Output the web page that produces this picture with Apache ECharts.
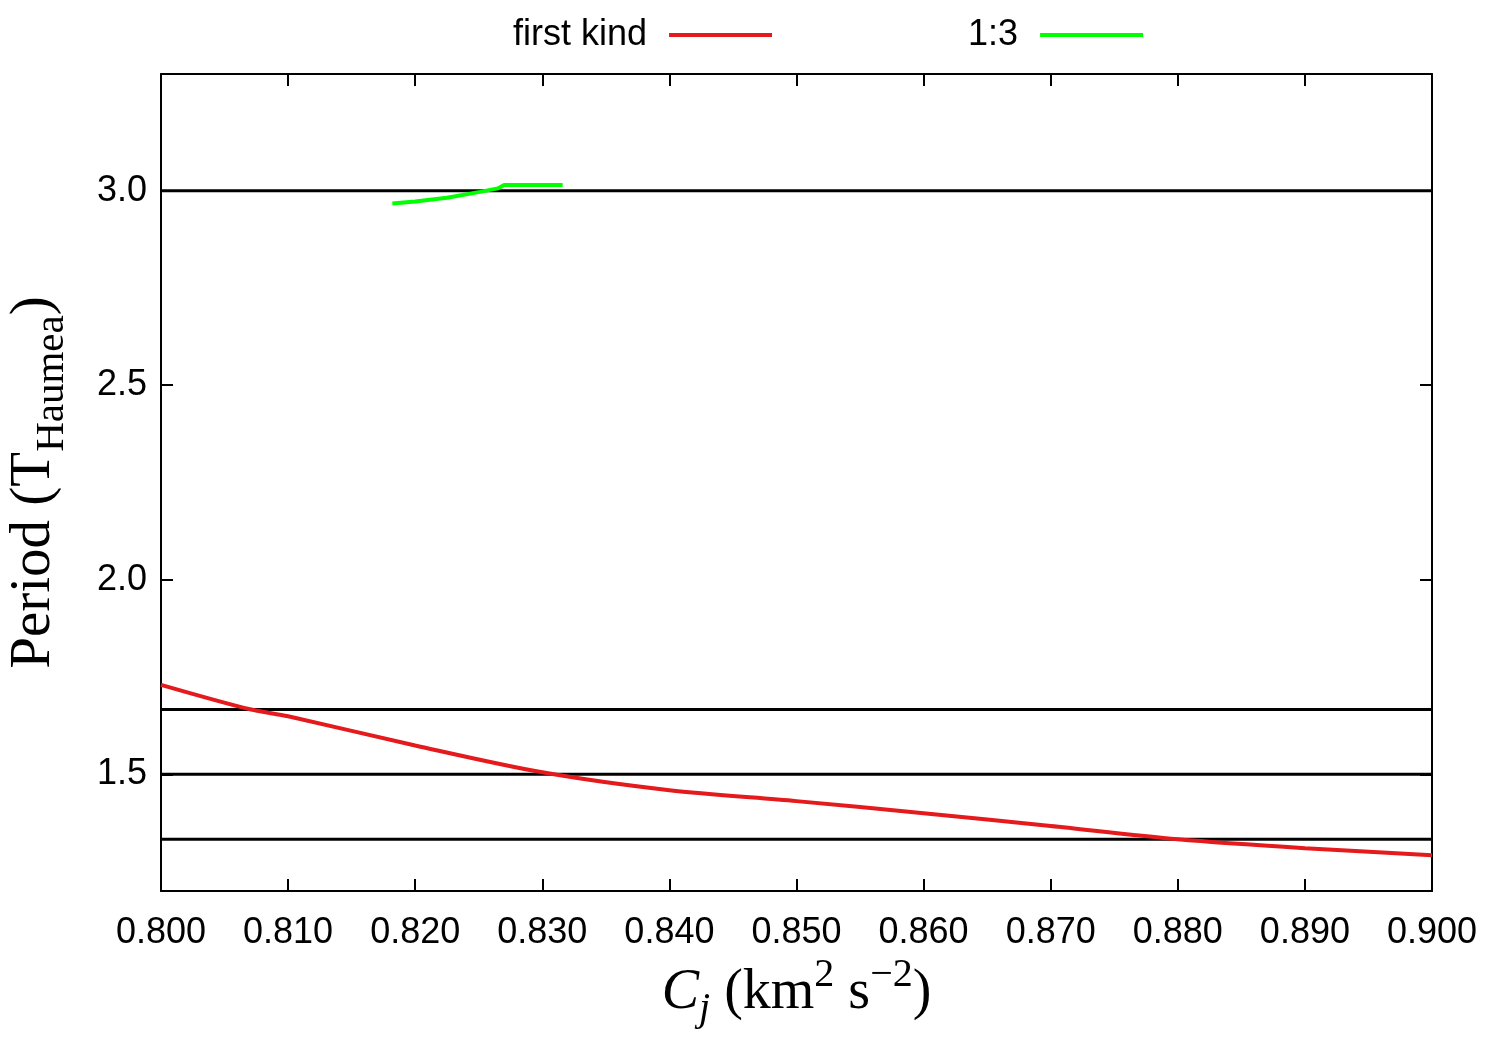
<!DOCTYPE html>
<html>
<head>
<meta charset="utf-8">
<script src="https://cdn.jsdelivr.net/npm/echarts@6/dist/echarts.min.js"></script>
<style>
html, body { margin: 0; padding: 0; background: #fff; }
#main { width: 1500px; height: 1050px; }
</style>
</head>
<body>
<div id="main"></div>
<script>
// data
var firstKindX = [0.800, 0.807, 0.810, 0.820, 0.830, 0.840, 0.850, 0.860, 0.870, 0.880, 0.890, 0.900];
var firstKindY = [1.730, 1.667, 1.649, 1.574, 1.505, 1.459, 1.431, 1.400, 1.367, 1.333, 1.310, 1.292];
var res13X = [0.8182, 0.8200, 0.8225, 0.8251, 0.8265, 0.8270, 0.8316];
var res13Y = [2.967, 2.972, 2.982, 2.997, 3.006, 3.015, 3.015];
var levels = [3.0, 5 / 3, 1.5, 4 / 3];
var yTicks = [1.5, 2.0, 2.5, 3.0];

function pairs(xs, ys) {
    var out = [];
    for (var i = 0; i < xs.length; i++) out.push([xs[i], ys[i]]);
    return out;
}

var myChart = echarts.init(document.getElementById('main'));

var levelSeries = levels.map(function (v) {
    return {
        type: 'line',
        name: 'level',
        data: [[0.8, v], [0.9, v]],
        symbol: 'none',
        silent: true,
        lineStyle: { color: '#000', width: 3 },
        z: 1
    };
});

var tickFont = { fontFamily: 'Liberation Sans', fontSize: 36, color: '#000' };
var serif = 'Liberation Serif';

option = {
    animation: false,
    backgroundColor: '#fff',
    grid: { left: 161, right: 68, top: 74, bottom: 159, outerBoundsMode: 'none' },
    legend: {
        top: 12,
        left: 508,
        align: 'right',
        itemGap: 196,
        itemWidth: 103,
        itemHeight: 4,
        icon: 'rect',
        data: ['first kind', '1:3'],
        textStyle: { fontFamily: 'Liberation Sans', fontSize: 36, color: '#000', padding: [0, 17, 0, 0] }
    },
    xAxis: [{
        type: 'value',
        min: 0.8,
        max: 0.9,
        interval: 0.01,
        axisLine: { show: true, onZero: false, lineStyle: { color: '#000', width: 2 } },
        axisTick: { show: true, inside: true, length: 12, lineStyle: { color: '#000', width: 2 } },
        splitLine: { show: false },
        axisLabel: Object.assign({
            margin: 24,
            formatter: function (v) { return v.toFixed(3); }
        }, tickFont),
        name: '{it|C}{sub|j}{t| (km}{sup|2}{t| s}{sup|−2}{t|)}',
        nameLocation: 'middle',
        nameGap: 62,
        nameTextStyle: {
            rich: {
                it: { fontFamily: serif, fontStyle: 'italic', fontSize: 56, color: '#000' },
                sub: { fontFamily: serif, fontStyle: 'italic', fontSize: 40, color: '#000', verticalAlign: 'bottom', padding: [34, 0, 0, 0] },
                t: { fontFamily: serif, fontSize: 56, color: '#000' },
                sup: { fontFamily: serif, fontSize: 40, color: '#000', verticalAlign: 'top', padding: [0, 0, 34, 0] }
            }
        }
    }, {
        type: 'value',
        position: 'top',
        min: 0.8,
        max: 0.9,
        interval: 0.01,
        axisLine: { show: true, onZero: false, lineStyle: { color: '#000', width: 2 } },
        axisTick: { show: true, inside: true, length: 12, lineStyle: { color: '#000', width: 2 } },
        axisLabel: { show: false },
        splitLine: { show: false }
    }],
    yAxis: [{
        type: 'value',
        min: 1.2,
        max: 3.3,
        axisLine: { show: true, onZero: false, lineStyle: { color: '#000', width: 2 } },
        axisTick: { show: true, inside: true, length: 12, customValues: yTicks, lineStyle: { color: '#000', width: 2 } },
        splitLine: { show: false },
        axisLabel: Object.assign({
            margin: 14,
            customValues: yTicks,
            formatter: function (v) { return v.toFixed(1); }
        }, tickFont),
        name: '{t|Period (T}{sub|Haumea}{t|)}',
        nameLocation: 'middle',
        nameGap: 88,
        nameRotate: 90,
        nameTextStyle: {
            rich: {
                t: { fontFamily: serif, fontSize: 57, color: '#000' },
                sub: { fontFamily: serif, fontSize: 41, color: '#000', verticalAlign: 'bottom', padding: [36, 0, 0, 0] }
            }
        }
    }, {
        type: 'value',
        position: 'right',
        min: 1.2,
        max: 3.3,
        axisLine: { show: true, onZero: false, lineStyle: { color: '#000', width: 2 } },
        axisTick: { show: true, inside: true, length: 12, customValues: yTicks, lineStyle: { color: '#000', width: 2 } },
        axisLabel: { show: false },
        splitLine: { show: false }
    }],
    series: levelSeries.concat([{
        name: 'first kind',
        type: 'line',
        data: pairs(firstKindX, firstKindY),
        symbol: 'none',
        smooth: 0.3,
        color: '#e41a1c',
        lineStyle: { color: '#e41a1c', width: 4 },
        z: 3
    }, {
        name: '1:3',
        type: 'line',
        data: pairs(res13X, res13Y),
        symbol: 'none',
        color: '#00ff00',
        lineStyle: { color: '#00ff00', width: 4 },
        z: 3
    }])
};

myChart.setOption(option);
</script>
</body>
</html>
